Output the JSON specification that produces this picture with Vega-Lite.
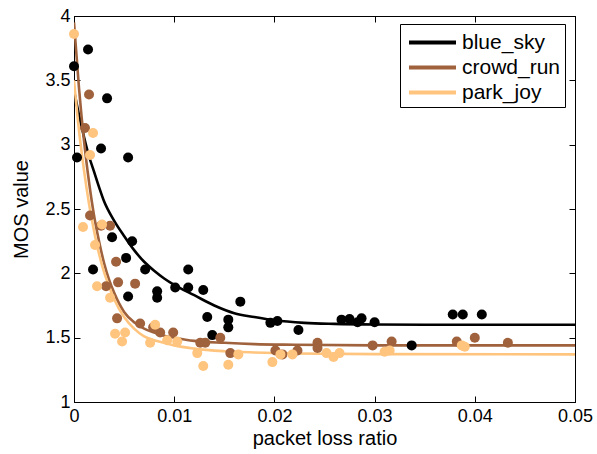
{
  "$schema": "https://vega.github.io/schema/vega-lite/v6.json",
  "width": 501,
  "height": 386,
  "padding": {"left": 74, "top": 16, "right": 22, "bottom": 52},
  "autosize": {"type": "none"},
  "background": "white",
  "config": {
    "view": {"stroke": "black", "strokeWidth": 1},
    "font": "Liberation Sans",
    "axis": {"grid": false, "domainColor": "black", "tickColor": "black", "labelColor": "black", "titleColor": "black", "labelFont": "Liberation Sans", "titleFont": "Liberation Sans", "titleFontWeight": "normal"}
  },
  "datasets": {
    "curves": [
      {"series": "blue_sky", "x": 0, "y": 3.42}, {"series": "blue_sky", "x": 0.0005, "y": 3.23}, {"series": "blue_sky", "x": 0.001, "y": 3.06}, {"series": "blue_sky", "x": 0.0015, "y": 2.91}, {"series": "blue_sky", "x": 0.002, "y": 2.79}, {"series": "blue_sky", "x": 0.0025, "y": 2.67}, {"series": "blue_sky", "x": 0.003, "y": 2.56}, {"series": "blue_sky", "x": 0.004, "y": 2.41}, {"series": "blue_sky", "x": 0.005, "y": 2.29}, {"series": "blue_sky", "x": 0.006, "y": 2.18}, {"series": "blue_sky", "x": 0.007, "y": 2.09}, {"series": "blue_sky", "x": 0.008, "y": 2.02}, {"series": "blue_sky", "x": 0.009, "y": 1.96}, {"series": "blue_sky", "x": 0.01, "y": 1.91}, {"series": "blue_sky", "x": 0.012, "y": 1.83}, {"series": "blue_sky", "x": 0.014, "y": 1.75}, {"series": "blue_sky", "x": 0.016, "y": 1.69}, {"series": "blue_sky", "x": 0.018, "y": 1.66}, {"series": "blue_sky", "x": 0.02, "y": 1.635}, {"series": "blue_sky", "x": 0.023, "y": 1.615}, {"series": "blue_sky", "x": 0.026, "y": 1.607}, {"series": "blue_sky", "x": 0.03, "y": 1.602}, {"series": "blue_sky", "x": 0.035, "y": 1.6}, {"series": "blue_sky", "x": 0.05, "y": 1.6},
      {"series": "crowd_run", "x": 0, "y": 3.95}, {"series": "crowd_run", "x": 0.0005, "y": 3.44}, {"series": "crowd_run", "x": 0.001, "y": 3.03}, {"series": "crowd_run", "x": 0.0015, "y": 2.71}, {"series": "crowd_run", "x": 0.002, "y": 2.45}, {"series": "crowd_run", "x": 0.0025, "y": 2.25}, {"series": "crowd_run", "x": 0.003, "y": 2.08}, {"series": "crowd_run", "x": 0.0035, "y": 1.95}, {"series": "crowd_run", "x": 0.004, "y": 1.85}, {"series": "crowd_run", "x": 0.005, "y": 1.7}, {"series": "crowd_run", "x": 0.006, "y": 1.62}, {"series": "crowd_run", "x": 0.007, "y": 1.57}, {"series": "crowd_run", "x": 0.008, "y": 1.54}, {"series": "crowd_run", "x": 0.009, "y": 1.515}, {"series": "crowd_run", "x": 0.01, "y": 1.5}, {"series": "crowd_run", "x": 0.012, "y": 1.475}, {"series": "crowd_run", "x": 0.015, "y": 1.46}, {"series": "crowd_run", "x": 0.018, "y": 1.45}, {"series": "crowd_run", "x": 0.022, "y": 1.445}, {"series": "crowd_run", "x": 0.03, "y": 1.44}, {"series": "crowd_run", "x": 0.05, "y": 1.44},
      {"series": "park_joy", "x": 0, "y": 3.5}, {"series": "park_joy", "x": 0.0005, "y": 3.11}, {"series": "park_joy", "x": 0.001, "y": 2.8}, {"series": "park_joy", "x": 0.0015, "y": 2.54}, {"series": "park_joy", "x": 0.002, "y": 2.33}, {"series": "park_joy", "x": 0.0025, "y": 2.15}, {"series": "park_joy", "x": 0.003, "y": 2.01}, {"series": "park_joy", "x": 0.0035, "y": 1.9}, {"series": "park_joy", "x": 0.004, "y": 1.8}, {"series": "park_joy", "x": 0.005, "y": 1.66}, {"series": "park_joy", "x": 0.006, "y": 1.57}, {"series": "park_joy", "x": 0.007, "y": 1.51}, {"series": "park_joy", "x": 0.008, "y": 1.48}, {"series": "park_joy", "x": 0.009, "y": 1.46}, {"series": "park_joy", "x": 0.01, "y": 1.44}, {"series": "park_joy", "x": 0.012, "y": 1.415}, {"series": "park_joy", "x": 0.015, "y": 1.395}, {"series": "park_joy", "x": 0.018, "y": 1.385}, {"series": "park_joy", "x": 0.022, "y": 1.377}, {"series": "park_joy", "x": 0.03, "y": 1.372}, {"series": "park_joy", "x": 0.05, "y": 1.37}
    ],
    "points": [
      {"series": "blue_sky", "x": 0.0, "y": 3.61}, {"series": "blue_sky", "x": 0.0014, "y": 3.74}, {"series": "blue_sky", "x": 0.0033, "y": 3.36}, {"series": "blue_sky", "x": 0.0027, "y": 2.97}, {"series": "blue_sky", "x": 0.0003, "y": 2.9}, {"series": "blue_sky", "x": 0.0054, "y": 2.9}, {"series": "blue_sky", "x": 0.0058, "y": 2.25}, {"series": "blue_sky", "x": 0.0038, "y": 2.28}, {"series": "blue_sky", "x": 0.0052, "y": 2.12}, {"series": "blue_sky", "x": 0.0019, "y": 2.03}, {"series": "blue_sky", "x": 0.0071, "y": 2.03}, {"series": "blue_sky", "x": 0.0083, "y": 1.86}, {"series": "blue_sky", "x": 0.0083, "y": 1.81}, {"series": "blue_sky", "x": 0.0054, "y": 1.82}, {"series": "blue_sky", "x": 0.0101, "y": 1.89}, {"series": "blue_sky", "x": 0.0114, "y": 2.03}, {"series": "blue_sky", "x": 0.0114, "y": 1.89}, {"series": "blue_sky", "x": 0.0129, "y": 1.87}, {"series": "blue_sky", "x": 0.0133, "y": 1.66}, {"series": "blue_sky", "x": 0.0138, "y": 1.52}, {"series": "blue_sky", "x": 0.0154, "y": 1.64}, {"series": "blue_sky", "x": 0.0154, "y": 1.58}, {"series": "blue_sky", "x": 0.0166, "y": 1.78}, {"series": "blue_sky", "x": 0.0196, "y": 1.615}, {"series": "blue_sky", "x": 0.0203, "y": 1.63}, {"series": "blue_sky", "x": 0.0224, "y": 1.56}, {"series": "blue_sky", "x": 0.0267, "y": 1.64}, {"series": "blue_sky", "x": 0.0275, "y": 1.645}, {"series": "blue_sky", "x": 0.0283, "y": 1.62}, {"series": "blue_sky", "x": 0.0287, "y": 1.65}, {"series": "blue_sky", "x": 0.03, "y": 1.62}, {"series": "blue_sky", "x": 0.0337, "y": 1.44}, {"series": "blue_sky", "x": 0.0378, "y": 1.68}, {"series": "blue_sky", "x": 0.0388, "y": 1.68}, {"series": "blue_sky", "x": 0.0407, "y": 1.68},
      {"series": "crowd_run", "x": 0.0015, "y": 3.39}, {"series": "crowd_run", "x": 0.0011, "y": 3.13}, {"series": "crowd_run", "x": 0.0016, "y": 2.45}, {"series": "crowd_run", "x": 0.0036, "y": 2.37}, {"series": "crowd_run", "x": 0.0027, "y": 2.37}, {"series": "crowd_run", "x": 0.0042, "y": 2.09}, {"series": "crowd_run", "x": 0.0044, "y": 1.93}, {"series": "crowd_run", "x": 0.0032, "y": 1.9}, {"series": "crowd_run", "x": 0.0061, "y": 1.92}, {"series": "crowd_run", "x": 0.0043, "y": 1.65}, {"series": "crowd_run", "x": 0.0066, "y": 1.61}, {"series": "crowd_run", "x": 0.0079, "y": 1.58}, {"series": "crowd_run", "x": 0.0086, "y": 1.54}, {"series": "crowd_run", "x": 0.0099, "y": 1.54}, {"series": "crowd_run", "x": 0.0126, "y": 1.46}, {"series": "crowd_run", "x": 0.0131, "y": 1.46}, {"series": "crowd_run", "x": 0.0146, "y": 1.5}, {"series": "crowd_run", "x": 0.0156, "y": 1.38}, {"series": "crowd_run", "x": 0.0201, "y": 1.4}, {"series": "crowd_run", "x": 0.0208, "y": 1.37}, {"series": "crowd_run", "x": 0.0223, "y": 1.4}, {"series": "crowd_run", "x": 0.0243, "y": 1.46}, {"series": "crowd_run", "x": 0.0243, "y": 1.42}, {"series": "crowd_run", "x": 0.0298, "y": 1.44}, {"series": "crowd_run", "x": 0.0317, "y": 1.47}, {"series": "crowd_run", "x": 0.0382, "y": 1.47}, {"series": "crowd_run", "x": 0.04, "y": 1.5}, {"series": "crowd_run", "x": 0.0433, "y": 1.46},
      {"series": "park_joy", "x": 0.0, "y": 3.86}, {"series": "park_joy", "x": 0.0019, "y": 3.09}, {"series": "park_joy", "x": 0.0016, "y": 2.92}, {"series": "park_joy", "x": 0.0009, "y": 2.36}, {"series": "park_joy", "x": 0.0021, "y": 2.22}, {"series": "park_joy", "x": 0.0028, "y": 2.38}, {"series": "park_joy", "x": 0.0023, "y": 1.9}, {"series": "park_joy", "x": 0.0036, "y": 1.81}, {"series": "park_joy", "x": 0.0041, "y": 1.53}, {"series": "park_joy", "x": 0.0048, "y": 1.47}, {"series": "park_joy", "x": 0.0051, "y": 1.54}, {"series": "park_joy", "x": 0.0076, "y": 1.46}, {"series": "park_joy", "x": 0.0081, "y": 1.6}, {"series": "park_joy", "x": 0.0093, "y": 1.48}, {"series": "park_joy", "x": 0.0103, "y": 1.47}, {"series": "park_joy", "x": 0.0123, "y": 1.38}, {"series": "park_joy", "x": 0.0129, "y": 1.28}, {"series": "park_joy", "x": 0.0154, "y": 1.29}, {"series": "park_joy", "x": 0.0164, "y": 1.37}, {"series": "park_joy", "x": 0.0198, "y": 1.31}, {"series": "park_joy", "x": 0.0206, "y": 1.37}, {"series": "park_joy", "x": 0.0218, "y": 1.37}, {"series": "park_joy", "x": 0.0252, "y": 1.38}, {"series": "park_joy", "x": 0.0259, "y": 1.35}, {"series": "park_joy", "x": 0.0265, "y": 1.38}, {"series": "park_joy", "x": 0.031, "y": 1.39}, {"series": "park_joy", "x": 0.0315, "y": 1.4}, {"series": "park_joy", "x": 0.0387, "y": 1.44}, {"series": "park_joy", "x": 0.039, "y": 1.43}
    ]
  },
  "resolve": {"axis": {"x": "independent", "y": "independent"}},
  "layer": [
    {
      "data": {"name": "curves"},
      "mark": {"type": "line", "strokeWidth": 2.6, "interpolate": "monotone", "clip": true},
      "encoding": {
        "x": {"field": "x", "type": "quantitative", "scale": {"domain": [0, 0.05], "nice": false}, "axis": {"values": [0, 0.01, 0.02, 0.03, 0.04, 0.05], "format": "~g", "title": "packet loss ratio", "tickSize": -6, "labelPadding": 11, "labelFontSize": 18, "titleFontSize": 20, "titlePadding": 3, "labelFlush": false}},
        "y": {"field": "y", "type": "quantitative", "scale": {"domain": [1, 4], "nice": false, "zero": false}, "axis": {"values": [1, 1.5, 2, 2.5, 3, 3.5, 4], "format": "~g", "title": "MOS value", "tickSize": -6, "labelPadding": 10, "labelFontSize": 18, "titleFontSize": 20, "titlePadding": 13, "labelFlush": false}},
        "color": {"field": "series", "type": "nominal", "scale": {"domain": ["blue_sky", "crowd_run", "park_joy"], "range": ["#000000", "#9f623d", "#ffc47e"]}, "legend": {"title": null, "orient": "none", "legendX": 326, "legendY": 8, "symbolType": "M-1.88,0H1.88", "symbolSize": 625, "symbolStrokeWidth": 4, "symbolOffset": 14, "labelFontSize": 21, "labelFont": "Liberation Sans", "labelColor": "black", "rowPadding": 0, "padding": 4, "strokeColor": "black", "fillColor": "white", "labelOffset": 15, "labelLimit": 200}},
        "order": {"field": "x", "type": "quantitative"}
      }
    },
    {
      "data": {"name": "points"},
      "mark": {"type": "circle", "size": 100, "opacity": 1},
      "encoding": {
        "x": {"field": "x", "type": "quantitative", "scale": {"domain": [0, 0.05], "nice": false}, "axis": {"orient": "top", "values": [0, 0.01, 0.02, 0.03, 0.04, 0.05], "labels": false, "title": null, "tickSize": -6}},
        "y": {"field": "y", "type": "quantitative", "scale": {"domain": [1, 4], "nice": false, "zero": false}, "axis": {"orient": "right", "values": [1, 1.5, 2, 2.5, 3, 3.5, 4], "labels": false, "title": null, "tickSize": -6}},
        "color": {"field": "series", "type": "nominal", "legend": null}
      }
    }
  ]
}
